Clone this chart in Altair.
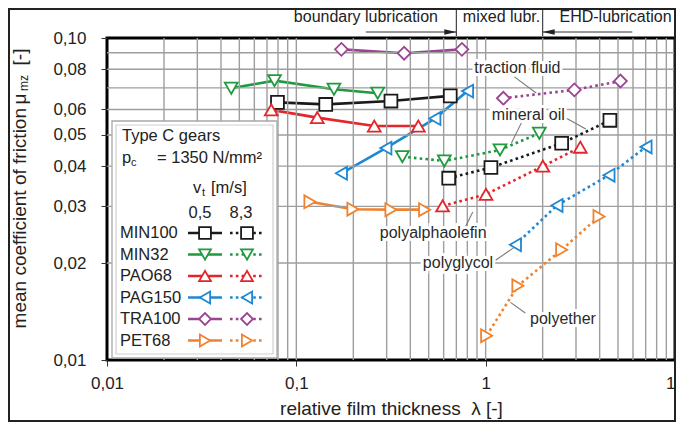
import altair as alt
import pandas as pd

FONT = "Liberation Sans, Arial, Helvetica, sans-serif"

# ---------------- data ----------------
lubricants = ["MIN100", "MIN32", "PAO68", "PAG150", "TRA100", "PET68"]
speeds = ["0,5", "8,3"]
colors = ["#1a1a1a", "#1f9a3e", "#e4252a", "#1e88d2", "#9a4592", "#f0822e"]
shapes = ["square", "triangle-down", "triangle-up", "triangle-left", "diamond", "triangle-right"]

min100_lam_05 = [0.0795, 0.143, 0.316, 0.650]
min100_mu_05 = [0.0631, 0.0622, 0.0637, 0.0661]
min100_lam_83 = [0.638, 1.066, 2.52, 4.53]
min100_mu_83 = [0.0367, 0.0396, 0.0471, 0.0555]

min32_lam_05 = [0.0453, 0.0767, 0.158, 0.269]
min32_mu_05 = [0.0698, 0.0737, 0.0693, 0.0674]
min32_lam_83 = [0.363, 0.605, 1.19, 1.92]
min32_mu_83 = [0.0428, 0.0415, 0.0449, 0.0506]

pao68_lam_05 = [0.0737, 0.129, 0.258, 0.441]
pao68_mu_05 = [0.0598, 0.0566, 0.0533, 0.0533]
pao68_lam_83 = [0.592, 1.004, 2.005, 3.16]
pao68_mu_83 = [0.0301, 0.0327, 0.0400, 0.0458]

pag150_lam_05 = [0.173, 0.297, 0.539, 0.802]
pag150_mu_05 = [0.0380, 0.0455, 0.0562, 0.0684]
pag150_lam_83 = [1.436, 2.38, 4.48, 7.03]
pag150_mu_83 = [0.0228, 0.0302, 0.0375, 0.0459]

tra100_lam_05 = [0.173, 0.371, 0.749]
tra100_mu_05 = [0.0922, 0.0897, 0.0922]
tra100_lam_83 = [1.24, 2.94, 5.15]
tra100_mu_83 = [0.0650, 0.0690, 0.0735]

pet68_lam_05 = [0.118, 0.199, 0.316, 0.476]
pet68_mu_05 = [0.0310, 0.0294, 0.0293, 0.0293]
pet68_lam_83 = [1.012, 1.48, 2.52, 3.97]
pet68_mu_83 = [0.0119, 0.0170, 0.0220, 0.0279]

x_ticks = [0.01, 0.1, 1, 10]
y_ticks = [0.01, 0.02, 0.03, 0.04, 0.05, 0.06, 0.08, 0.10]
x_grid = [0.02, 0.03, 0.04, 0.05, 0.06, 0.07, 0.08, 0.09, 0.1,
          0.2, 0.3, 0.4, 0.5, 0.6, 0.7, 0.8, 0.9, 1,
          2, 3, 4, 5, 6, 7, 8, 9]
y_grid = [0.02, 0.03, 0.04, 0.05, 0.06, 0.07, 0.08, 0.09]

label_texts = ["traction fluid", "mineral oil", "polyalphaolefin", "polyglycol", "polyether"]
label_lam = [1.47, 1.68, 0.528, 0.714, 2.56]
label_mu = [0.0807, 0.0577, 0.0248, 0.0200, 0.0134]

leader_lam1 = [1.419, 1.544, 2.655, 0.776, 1.128, 1.62]
leader_mu1 = [0.0757, 0.0545, 0.0564, 0.0257, 0.0204, 0.0140]
leader_lam2 = [1.849, 1.368, 3.38, 0.855, 1.402, 1.352]
leader_mu2 = [0.0675, 0.0472, 0.0522, 0.0288, 0.0223, 0.0151]

regime_texts = ["boundary lubrication", "mixed lubr.", "EHD-lubrication"]
regime_lam = [0.233, 1.213, 4.85]
regime_bounds = [0.70, 2.0]
arrow_right = (0.233, 0.70)   # boundary lubrication ->
arrow_left = (5.95, 2.0)      # <- EHD-lubrication

# ---------------- tables ----------------
series = [
    ("MIN100", "0,5", min100_lam_05, min100_mu_05), ("MIN100", "8,3", min100_lam_83, min100_mu_83),
    ("MIN32", "0,5", min32_lam_05, min32_mu_05), ("MIN32", "8,3", min32_lam_83, min32_mu_83),
    ("PAO68", "0,5", pao68_lam_05, pao68_mu_05), ("PAO68", "8,3", pao68_lam_83, pao68_mu_83),
    ("PAG150", "0,5", pag150_lam_05, pag150_mu_05), ("PAG150", "8,3", pag150_lam_83, pag150_mu_83),
    ("TRA100", "0,5", tra100_lam_05, tra100_mu_05), ("TRA100", "8,3", tra100_lam_83, tra100_mu_83),
    ("PET68", "0,5", pet68_lam_05, pet68_mu_05), ("PET68", "8,3", pet68_lam_83, pet68_mu_83),
]
rows = []
for name, sp, lams, mus in series:
    for l, m in zip(lams, mus):
        rows.append({"name": name, "speed": sp, "lam": l, "mu": m, "key": name + sp})
df = pd.DataFrame(rows)

W, H = 568, 322
xscale = alt.Scale(type="log", domain=[0.01, 10], nice=False)
yscale = alt.Scale(type="log", domain=[0.01, 0.1], nice=False)
color_scale = alt.Scale(domain=lubricants, range=colors)
shape_scale = alt.Scale(domain=lubricants, range=shapes)

X = lambda f="lam": alt.X(f + ":Q", scale=xscale)
Y = lambda f="mu": alt.Y(f + ":Q", scale=yscale)
PX = lambda f="gx": alt.X(f + ":Q", scale=None)
PY = lambda f="gy": alt.Y(f + ":Q", scale=None)
one = pd.DataFrame({"a": [0]})

# ---------------- data lines & markers (carry the axes) ----------------
x_main = alt.X("lam:Q", scale=xscale, axis=alt.Axis(
    values=x_ticks, labelExpr="replace(toString(datum.value), '.', ',')",
    grid=False, domain=False, tickSize=6, tickColor="#333", labelFontSize=17, labelPadding=9,
    labelFlush=False, labelOverlap=False, labelColor="#222", labelFont=FONT,
    title="relative film thickness\u00a0\u00a0λ [-]", titleFont=FONT, titleFontSize=19,
    titleFontWeight="normal", titleColor="#222", titlePadding=8))
y_main = alt.Y("mu:Q", scale=yscale, axis=alt.Axis(
    values=y_ticks, labelExpr="replace(format(datum.value, '.2f'), '.', ',')",
    grid=False, domain=False, tickSize=6, tickColor="#333", labelFontSize=17, labelPadding=15,
    labelFlush=False, labelOverlap=False, labelColor="#222", labelFont=FONT, title=None))

col = alt.Color("name:N", scale=color_scale, legend=None)
solid = alt.Chart(df).transform_filter(alt.datum.speed == "0,5").mark_line(
    strokeWidth=2.6).encode(x=x_main, y=y_main, color=col, detail="key:N")
dotted = alt.Chart(df).transform_filter(alt.datum.speed == "8,3").mark_line(
    strokeWidth=2.6, strokeDash=[2.6, 3.2]).encode(x=X(), y=Y(), color=col, detail="key:N")
points = alt.Chart(df).mark_point(filled=True, fill="white", size=165, strokeWidth=1.8, opacity=1).encode(
    x=X(), y=Y(),
    stroke=alt.Stroke("name:N", scale=color_scale, legend=None),
    shape=alt.Shape("name:N", scale=shape_scale, legend=None))

# ---------------- grid ----------------
vgrid = alt.Chart(pd.DataFrame({"lam": x_grid})).mark_rule(color="#9e9e9e", strokeWidth=1.4).encode(x=X())
hgrid = alt.Chart(pd.DataFrame({"mu": y_grid})).mark_rule(color="#9e9e9e", strokeWidth=1.4).encode(y=Y())

# ---------------- legend box ----------------
box_outer = alt.Chart(one).mark_rect(fill="white", stroke="#a8a8a8", strokeWidth=1.3).encode(
    x=alt.value(5), x2=alt.value(170), y=alt.value(83), y2=alt.value(320))
box_inner = alt.Chart(one).mark_rect(fill="white", stroke="#cfcfcf", strokeWidth=1.2).encode(
    x=alt.value(9), x2=alt.value(166), y=alt.value(87), y2=alt.value(316))

# ---------------- legend content ----------------
row_y = [195, 216.5, 238, 259.5, 281, 302.5]
leg_lines = []
leg_pts = []
for n, yy in zip(lubricants, row_y):
    leg_lines += [{"name": n, "speed": "0,5", "k": n + "a", "gx": 81, "gy": yy},
                  {"name": n, "speed": "0,5", "k": n + "a", "gx": 115, "gy": yy},
                  {"name": n, "speed": "8,3", "k": n + "b", "gx": 123, "gy": yy},
                  {"name": n, "speed": "8,3", "k": n + "b", "gx": 157, "gy": yy}]
    leg_pts += [{"name": n, "gx": 98, "gy": yy}, {"name": n, "gx": 140, "gy": yy}]
leg_lines = pd.DataFrame(leg_lines)
leg_solid = alt.Chart(leg_lines).transform_filter(alt.datum.speed == "0,5").mark_line(
    strokeWidth=2.6).encode(x=PX(), y=PY(), color=col, detail="k:N")
leg_dot = alt.Chart(leg_lines).transform_filter(alt.datum.speed == "8,3").mark_line(
    strokeWidth=2.6, strokeDash=[2.6, 3.2]).encode(x=PX(), y=PY(), color=col, detail="k:N")
leg_marks = alt.Chart(pd.DataFrame(leg_pts)).mark_point(
    filled=True, fill="white", size=140, strokeWidth=1.8, opacity=1).encode(
    x=PX(), y=PY(),
    stroke=alt.Stroke("name:N", scale=color_scale, legend=None),
    shape=alt.Shape("name:N", scale=shape_scale, legend=None))

leg_txt = pd.DataFrame({
    "text": ["Type C gears", "p", "c", "= 1350 N/mm²", "v", "t", "[m/s]"] + lubricants,
    "gx": [15, 15, 24, 50, 86, 95, 104] + [13] * 6,
    "gy": [98, 120, 125, 120, 150, 155, 150] + row_y,
    "fs": [16.5, 16.5, 11, 16.5, 16.5, 11, 16.5] + [16.5] * 6,
})
leg_text = alt.Chart(leg_txt).mark_text(align="left", baseline="middle", font=FONT, color="#222").encode(
    x=PX(), y=PY(), text="text:N", size=alt.Size("fs:Q", scale=None, legend=None))
head_txt = pd.DataFrame({"text": speeds, "gx": [93, 134], "gy": [175, 175]})
head_text = alt.Chart(head_txt).mark_text(align="center", baseline="middle", font=FONT, fontSize=16.5,
                                           color="#222").encode(x=PX(), y=PY(), text="text:N")

# ---------------- y-axis title (with subscript) ----------------
yt_main = alt.Chart(one).mark_text(text="mean coefficient of friction", angle=270, align="right",
                                   baseline="middle", font=FONT, fontSize=19, color="#222").encode(
    x=alt.value(-87), y=alt.value(70))
yt_parts = alt.Chart(pd.DataFrame({"text": ["μ", "mz", "[-]"], "gx": [-87, -83, -87],
                                   "gy": [61, 45, 19], "fs": [19, 12, 19]})).mark_text(
    angle=270, align="center", baseline="middle", font=FONT, color="#222").encode(
    x=PX(), y=PY(), text="text:N", size=alt.Size("fs:Q", scale=None, legend=None))

# ---------------- annotations ----------------
lab_df = pd.DataFrame({"text": label_texts, "lam": label_lam, "mu": label_mu})
lab_halo = alt.Chart(lab_df).mark_text(font=FONT, fontSize=16, stroke="white", strokeWidth=6,
                                       color="white").encode(x=X(), y=Y(), text="text:N")
lab_text = alt.Chart(lab_df).mark_text(font=FONT, fontSize=16, color="#2a2a2a").encode(
    x=X(), y=Y(), text="text:N")
lead_df = pd.DataFrame({"lam": leader_lam1, "mu": leader_mu1, "lam2": leader_lam2, "mu2": leader_mu2})
leaders = alt.Chart(lead_df).mark_rule(color="#7a7a7a", strokeWidth=1.1).encode(
    x=X(), y=Y(), x2="lam2:Q", y2="mu2:Q")

reg_df = pd.DataFrame({"text": regime_texts, "lam": regime_lam})
reg_text = alt.Chart(reg_df).mark_text(font=FONT, fontSize=16, baseline="alphabetic", color="#222").encode(
    x=X(), y=alt.value(-16), text="text:N")
seps = alt.Chart(pd.DataFrame({"lam": regime_bounds})).mark_rule(color="#333", strokeWidth=1.1).encode(
    x=X(), y=alt.value(-34), y2=alt.value(-2))
arrows = alt.Chart(pd.DataFrame({"lam": [arrow_right[0], arrow_left[0]],
                                 "lam2": [arrow_right[1], arrow_left[1]]})).mark_rule(
    color="#333", strokeWidth=1.1).encode(x=X(), x2="lam2:Q", y=alt.value(-6))
head_r = alt.Chart(pd.DataFrame({"lam": [arrow_right[1]]})).mark_point(
    shape="M1,0L-1,-0.45L-1,0.45Z", filled=True, color="#222", size=144, opacity=1, xOffset=-6).encode(
    x=X(), y=alt.value(-6))
head_l = alt.Chart(pd.DataFrame({"lam": [arrow_left[1]]})).mark_point(
    shape="M-1,0L1,-0.45L1,0.45Z", filled=True, color="#222", size=144, opacity=1, xOffset=6).encode(
    x=X(), y=alt.value(-6))

outer = alt.Chart(one).mark_rect(fill="transparent", stroke="#222", strokeWidth=2).encode(
    x=alt.value(-98), x2=alt.value(568), y=alt.value(-29), y2=alt.value(383))

chart = alt.layer(
    solid, vgrid, hgrid, box_outer, box_inner,
    dotted, points,
    leg_solid, leg_dot, leg_marks, leg_text, head_text,
    leaders, lab_halo, lab_text,
    reg_text, seps, arrows, head_r, head_l,
    yt_main, yt_parts, outer,
).properties(
    width=W, height=H, autosize="none",
    padding={"left": 99, "top": 30, "right": 1, "bottom": 62},
).configure_view(stroke="black", strokeWidth=3)

chart.save("out.html", embed_options={"renderer": "svg", "actions": False})
